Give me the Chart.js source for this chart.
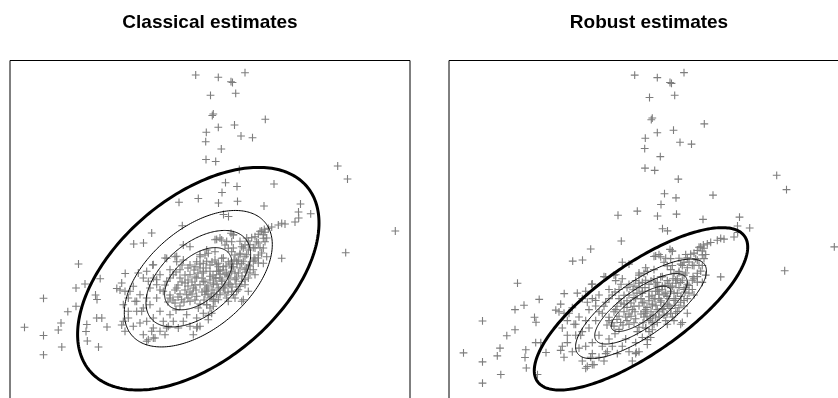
<!DOCTYPE html>
<html>
<head>
<meta charset="utf-8">
<script src="https://cdn.jsdelivr.net/npm/chart.js@4.4.1/dist/chart.umd.min.js"></script>
<style>
  html, body { margin: 0; padding: 0; background: #fff; overflow: hidden; }
  #wrap { position: relative; width: 838px; height: 398px; overflow: hidden; background: #fff; }
  canvas { position: absolute; top: 0; }
  #cLeft { left: 0; }
  #cRight { left: 439px; }
</style>
</head>
<body>
<div id="wrap">
  <canvas id="cLeft" width="420" height="420"></canvas>
  <canvas id="cRight" width="420" height="420"></canvas>
</div>
<script>
// Observations, grouped by region of the cloud: [x, y]
const upperBranch = [
  [185.7,315],[208.3,312.7],[221,308.3],[222.5,307.5],[235,317.3],[200.5,294.7],[225.7,296.7],
  [203.3,276],[202.3,274.5],[255.3,270.7],[208.3,262.7],[224.5,265],[196.3,257.7],[231,254],
  [242.5,252.3],[195.7,248.3],[211.3,241],[196,230.5],[205.7,228.5],[327.7,224],[337.5,211],
  [229.3,220.5],[215.5,207.3],[227,203.5],[264,206],[212,197.5],[188.3,191.5],[169,187.7],
  [208.5,187],[227.5,188.7],[254,184],[290.5,186],[288.5,178],[300.7,176.2],[288.7,172],[285,168],
  [385.3,159],[335.7,137.3],[271.7,131.7],[172.3,164.3],[141.7,157],[123.7,146],[133.5,147],
  [213.5,175.5],[218.5,173.5]
];
const rightArm = [
  [271.7,166.7],[275,166],[268.3,165],[261.7,163],[258.3,161.7],[254.3,160.7],[251.7,159],[255,157.7],
  [248.3,155.7],[245,153.3],[253.3,151.7],[241.7,152.3],[238.3,149],[246.7,148.3],[255,148.3],[235,145],
  [231.7,143.3],[243.3,142.3],[238.3,140],[250,142.3],[248.3,135],[245,130],[235,133.3],[230,136.7],
  [225,135],[221.7,138.3],[218.3,141.7],[211.7,150],[215,145],[221.7,148.3],[223.3,155],[221,156.7],
  [228.3,130],[231.7,126.7],[238.3,125],[218.3,128.3],[211.7,131.7],[208.3,126.7],[213.3,123.3],
  [223.3,123.3],[256.7,133.3],[253.3,126.7],
  [250,158.7],[253.3,155.3],[256.7,152],[248.3,147],[245,142],[253.3,142],[251.7,137],[248.3,132],
  [243.3,128.7],[248.3,127],[236.7,122],[240,117],[235,110.3],[230,103.7],[226.7,98.7],[223.3,95.3],
  [216.7,92],[210,95.3],[203.3,90.3],[196.7,85.3],[200,82],[205,88.7],[213.3,102],[220,105.3],
  [226.7,112],[233.3,128.7],[230,135.3],[223.3,142],[216.7,148.7],[210,152],[205,150.3],[223.3,155.3],
  [230,148.7],[236.7,152],[240,145.3],[233.3,142],[236.7,135.3],[226.7,128.7],[221.7,122],[216.7,117],
  [210,112],[203.3,105.3],[196.7,98.7],[193.3,108.7],[200,118.7],[206.7,125.3],[213.3,132],
  [196.7,128.7],[193.3,118.7],[190,135.3],[233.3,90.3],[198.3,74.7]
];
const core = [
  [206.7,150.7],[173.3,145],[180,143.3],[156.7,131.7],[165,133.3],[166.7,128.3],[142.7,125],
  [190,133.3],[195,135],[198.3,136.7],[186.7,128.3],[193.3,126.7],[200,125],[205,130],[208.3,123.3],
  [185,123.3],[205,138.3],[196.7,140],[173.3,130],[180,125],
  [111.7,107],[115,98.7],[123.3,103.7],[113.3,85.3],[118.3,92],[125,88.7],[130,95.3],[126.7,78.7],
  [118.3,78.7],[113.3,68.7],[115,58.7],[123.3,63.7],[130,67],[133.3,55.3],[138.3,50.3],[143.3,52],
  [141.7,58.7],[136.7,68.7],[133.3,82],[140,85.3],[136.7,92],[140,102],[146.7,105.3],[143.3,112],
  [133.3,112],[128.3,117],[136.7,118.7],[150,115.3],[153.3,98.7],[146.7,92],[150,78.7],[143.3,72],
  [153.3,68.7],[160,75.3],[163.3,68.7],[158.3,63.7],[168.3,62],[173.3,68.7],[176.7,75.3],[186.7,72],
  [180,63.7],[190,63.7],[150,58.7],[155,55.3],[165,87],[160,92],[156.7,108.7],[163.3,115.3],[170,112],
  [166.7,102],[175,107],[180,115.3],[186.7,112],[193.3,117],[200,113.7],[206.7,118.7],[183.3,102],
  [190,105.3],[196.7,102],[203.3,107],[208.3,102],[176.7,95.3],[186.7,93.7],[195,95.3],[201.7,93.7],
  [206.7,95.3],[171.7,90.3],[180,88.7],[188.3,82],[196.7,85.3],[203.3,83.7],[193.3,76.7],[201.7,76.7],
  [198.3,70.3],[183.3,55.3],[186.7,62],[170,120.3],[160,120.3],
  [208.3,118.7],[215,115.3],[221.7,118.7],[228.3,117],[235,120.3],[238.3,112],[231.7,108.7],[225,110.3],
  [218.3,107],[211.7,108.7],[235,105.3],[228.3,100.3],[221.7,98.7],[215,97],[225,92],[218.3,88.7],
  [208.3,90.3],[238.3,98.7],[245,115.3],[243.3,120.3],[231.7,88.7],
  [175,115],[185,105],[195,100],[205,112],[215,105],[180,98],[210,120],[190,122],[200,92],[168,105],
  [220,112],[178,110],[187.3,63.3],[138.3,108.7],[143.3,125.3],[155,132],[166.7,133.7],[146.7,110.3],
  [126.7,88.7],[131.7,78.7],[143.3,62],[145,52],[156.7,62],[136.7,48.7]
];
const denseCentre = [
  [160,95],[165,100],[170,96],[175,100],[172,108],[178,104],[182,108],[185,113],[188,117],[192,112],
  [195,108],[198,104],[200,110],[203,115],[206,112],[210,116],[213,120],[216,124],[220,126],[224,130],
  [227,126],[230,122],[225,117],[218,114],[212,110],[207,106],[202,100],[198,96],[192,98],[186,100],
  [182,96],[178,92],[174,88],[170,84],[166,80],[163,90],[168,93],[185,90],[190,86],[194,90],
  [204,97],[210,100],[214,103],[218,98],[222,103],[226,106],[232,114],[236,118],[240,124],[244,132],
  [184,120],[190,126],[196,122],[202,128],[178,122],[172,125],[166,118],[160,112],[155,105],[150,100],
  [158,88]
];
const leftTail = [
  [68.5,126],[33.5,91.7],[66,102],[75,106],[90.2,111.3],[115.2,116.5],[14.5,62.7],[33.5,54.5],
  [33.5,35.2],[51.8,43],[51,67],[48.3,60],[57.8,78.3],[66,83.7],[76.8,65.5],[76,58.5],[77.3,49],
  [88.5,43],[86.7,72],[91.8,72],[97,63],[85.5,95],[87,90.5],[106.8,101.5],[110,100],[111.7,65],
  [120,98.7],[118.3,72]
];

// Location / scatter estimates for the tolerance ellipses
const classicalCenter = [188.3, 111.3];
const classicalSd = [44.44, 40.98];
const classicalRho = 0.5;
const robustCenter = [192, 102.7];
const robustSd = [39.29, 27.16];
const robustRho = 0.76;
const ellipseLevels = [0.25, 0.5, 0.75, 0.975];

// Axis ranges of the two panels
const xRange = [0, 400];
const yRangeClassical = [-20, 330];
const yRangeRobust = [10.8, 328.75];

const allPoints = upperBranch.concat(rightArm, core, denseCentre, leftTail).map(p => ({ x: p[0], y: p[1] }));

// Tolerance ellipses, traced through the chart's scales
const ellipsePlugin = {
  id: 'ellipses',
  afterDatasetsDraw(chart, args, opts) {
    const { ctx, chartArea, scales } = chart;
    const [cx, cy] = opts.center;
    const [sx, sy] = opts.sd;
    const rho = opts.rho;
    const k = Math.sqrt(1 - rho * rho);
    ctx.save();
    ctx.beginPath();
    ctx.rect(chartArea.left, chartArea.top, chartArea.right - chartArea.left, chartArea.bottom - chartArea.top);
    ctx.clip();
    ctx.strokeStyle = '#000';
    opts.levels.forEach((p, i) => {
      const r = Math.sqrt(-2 * Math.log(1 - p));
      ctx.lineWidth = i === opts.levels.length - 1 ? 3 : 1;
      ctx.beginPath();
      const n = 240;
      for (let j = 0; j <= n; j++) {
        const t = 2 * Math.PI * j / n;
        const x = cx + r * sx * Math.cos(t);
        const y = cy + r * sy * (rho * Math.cos(t) + k * Math.sin(t));
        const px = scales.x.getPixelForValue(x);
        const py = scales.y.getPixelForValue(y);
        if (j === 0) ctx.moveTo(px, py); else ctx.lineTo(px, py);
      }
      ctx.closePath();
      ctx.stroke();
    });
    ctx.restore();
  }
};

// Plot frame
const framePlugin = {
  id: 'frame',
  afterDraw(chart) {
    const { ctx, chartArea } = chart;
    ctx.save();
    ctx.strokeStyle = '#000';
    ctx.lineWidth = 1;
    ctx.beginPath();
    ctx.moveTo(chartArea.left, chartArea.bottom);
    ctx.lineTo(chartArea.left, chartArea.top + 0.5);
    ctx.lineTo(chartArea.right, chartArea.top + 0.5);
    ctx.lineTo(chartArea.right, chartArea.bottom);
    ctx.stroke();
    ctx.restore();
  }
};

function makePanel(id, title, yRange, center, sd, rho) {
  return new Chart(document.getElementById(id), {
    type: 'scatter',
    data: {
      datasets: [{
        data: allPoints,
        pointStyle: 'cross',
        pointRadius: 3.9,
        pointHoverRadius: 3.9,
        borderColor: '#7d7d7d',
        backgroundColor: '#7d7d7d',
        borderWidth: 1.1
      }]
    },
    options: {
      responsive: false,
      animation: false,
      devicePixelRatio: 1,
      events: [],
      layout: { padding: { left: 10, right: 10, top: 0, bottom: 10 } },
      scales: {
        x: { type: 'linear', min: xRange[0], max: xRange[1], display: false },
        y: { type: 'linear', min: yRange[0], max: yRange[1], display: false }
      },
      plugins: {
        legend: { display: false },
        tooltip: { enabled: false },
        title: {
          display: true,
          text: title,
          color: '#000',
          font: { family: '"Liberation Sans", Arial, Helvetica, sans-serif', size: 19, weight: 'bold' },
          padding: { top: 11, bottom: 26.2 }
        },
        ellipses: { center, sd, rho, levels: ellipseLevels }
      }
    },
    plugins: [ellipsePlugin, framePlugin]
  });
}

makePanel('cLeft', 'Classical estimates', yRangeClassical, classicalCenter, classicalSd, classicalRho);
makePanel('cRight', 'Robust estimates', yRangeRobust, robustCenter, robustSd, robustRho);
</script>
</body>
</html>
